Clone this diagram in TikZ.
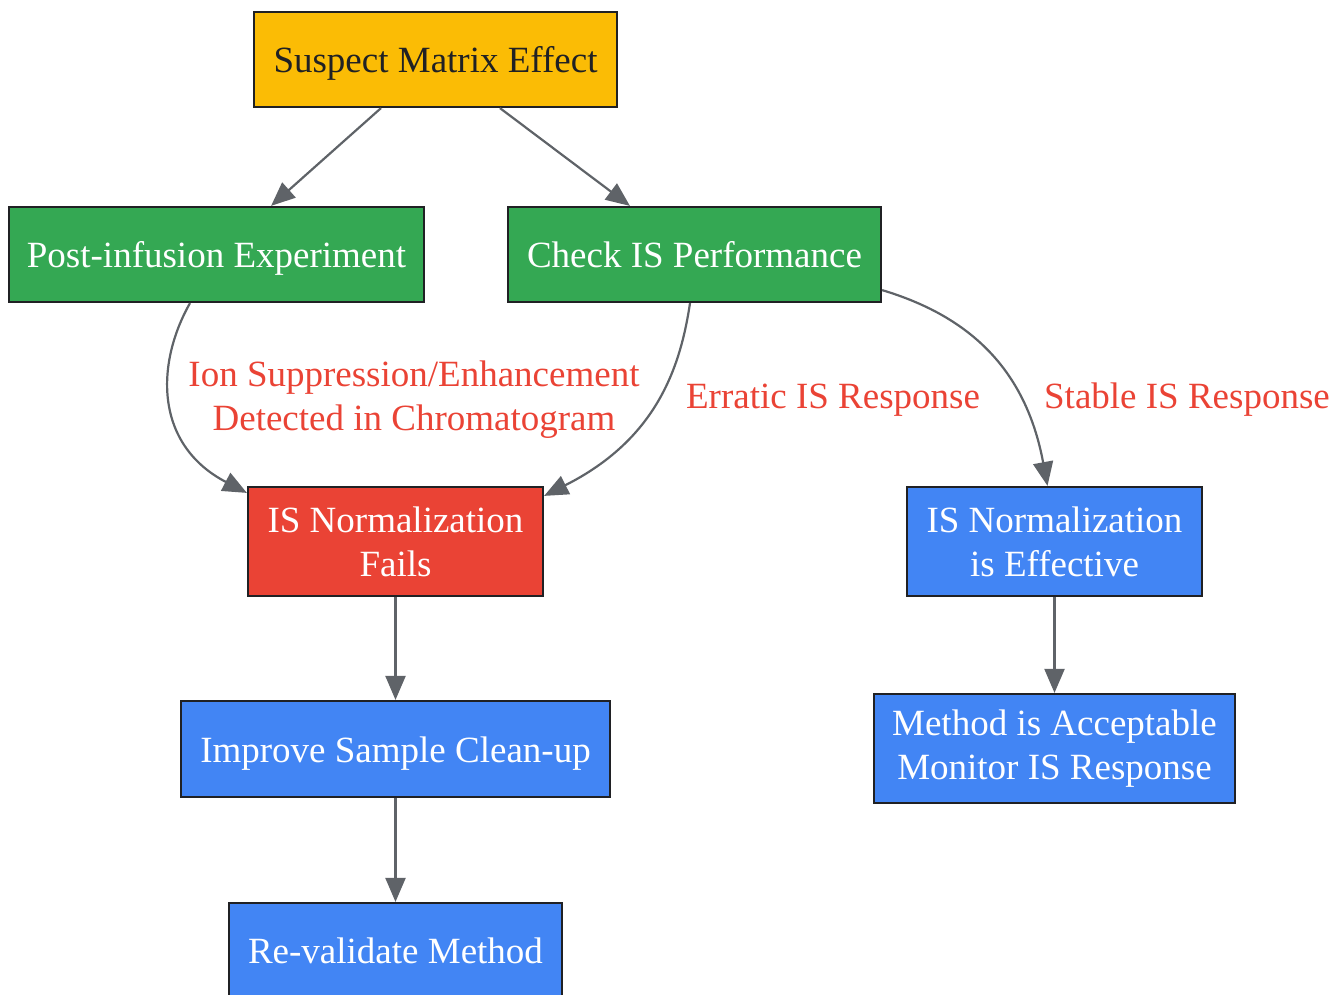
\documentclass[tikz,border=0pt]{standalone}
\usepackage{fontspec}
\setmainfont{Liberation Serif}
\usetikzlibrary{arrows.meta}
\definecolor{cyellow}{HTML}{FBBC05}
\definecolor{cgreen}{HTML}{34A853}
\definecolor{cred}{HTML}{EA4335}
\definecolor{cblue}{HTML}{4285F4}
\definecolor{cedge}{HTML}{5F6368}
\definecolor{cborder}{HTML}{202124}
\tikzset{
  box/.style={draw=cborder, line width=2.2pt, inner sep=0pt, align=center,
    font=\fontsize{37}{44}\selectfont, text=white},
  one/.style={text height=26pt, text depth=0pt},
  ybox/.style={box, fill=cyellow, text=cborder},
  gbox/.style={box, fill=cgreen},
  rbox/.style={box, fill=cred},
  bbox/.style={box, fill=cblue},
  conn/.style={draw=cedge, line width=2.2pt,
    -{Triangle[length=24pt,width=20pt]}},
  lbl/.style={text=cred, align=center, inner sep=0pt,
    font=\fontsize{37}{44}\selectfont}
}
\begin{document}
\begin{tikzpicture}[x=1pt,y=-1pt]
\useasboundingbox (0,0) rectangle (1344,994);
\node[ybox, one, minimum width=363pt, minimum height=95pt] (suspect) at (435.5,59.5) {Suspect Matrix Effect};
\node[gbox, one, minimum width=415pt, minimum height=95pt] (post) at (216.5,254.5) {Post-infusion Experiment};
\node[gbox, one, minimum width=373pt, minimum height=95pt] (check) at (694.5,254.5) {Check IS Performance};
\node[rbox, minimum width=295pt, minimum height=109pt] (fails) at (395.5,541.5) {IS Normalization\\Fails};
\node[bbox, minimum width=295pt, minimum height=109pt] (eff) at (1054.5,541.5) {IS Normalization\\is Effective};
\node[bbox, one, minimum width=429pt, minimum height=96pt] (improve) at (395.5,749) {Improve Sample Clean-up};
\node[bbox, one, minimum width=333pt, minimum height=95pt] (reval) at (395.5,950.5) {Re-validate Method};
\node[bbox, minimum width=361pt, minimum height=109pt] (method) at (1054.5,748.5) {Method is Acceptable\\Monitor IS Response};

\draw[conn] (suspect) -- (post);
\draw[conn] (suspect) -- (check);
\draw[conn] ([xshift=-26.5pt]post.south) .. controls (155,365) and (155,445) .. ([yshift=-7pt]fails.north west);
\draw[conn] ([xshift=-4.5pt]check.south) .. controls (680,370) and (655,440) .. ([yshift=-10pt]fails.north east);
\draw[conn] ([yshift=13pt]check.south east) .. controls (965,315) and (1025,365) .. ([xshift=-7pt]eff.north);
\draw[conn] (fails) -- (improve);
\draw[conn] (improve) -- (reval);
\draw[conn] (eff) -- (method);

\node[lbl] (l1) at (414,400) {Ion Suppression/Enhancement\\Detected in Chromatogram};
\node[lbl] (l2) at (833,400) {Erratic IS Response};
\node[lbl] (l3) at (1187,400) {Stable IS Response};
\end{tikzpicture}
\end{document}
